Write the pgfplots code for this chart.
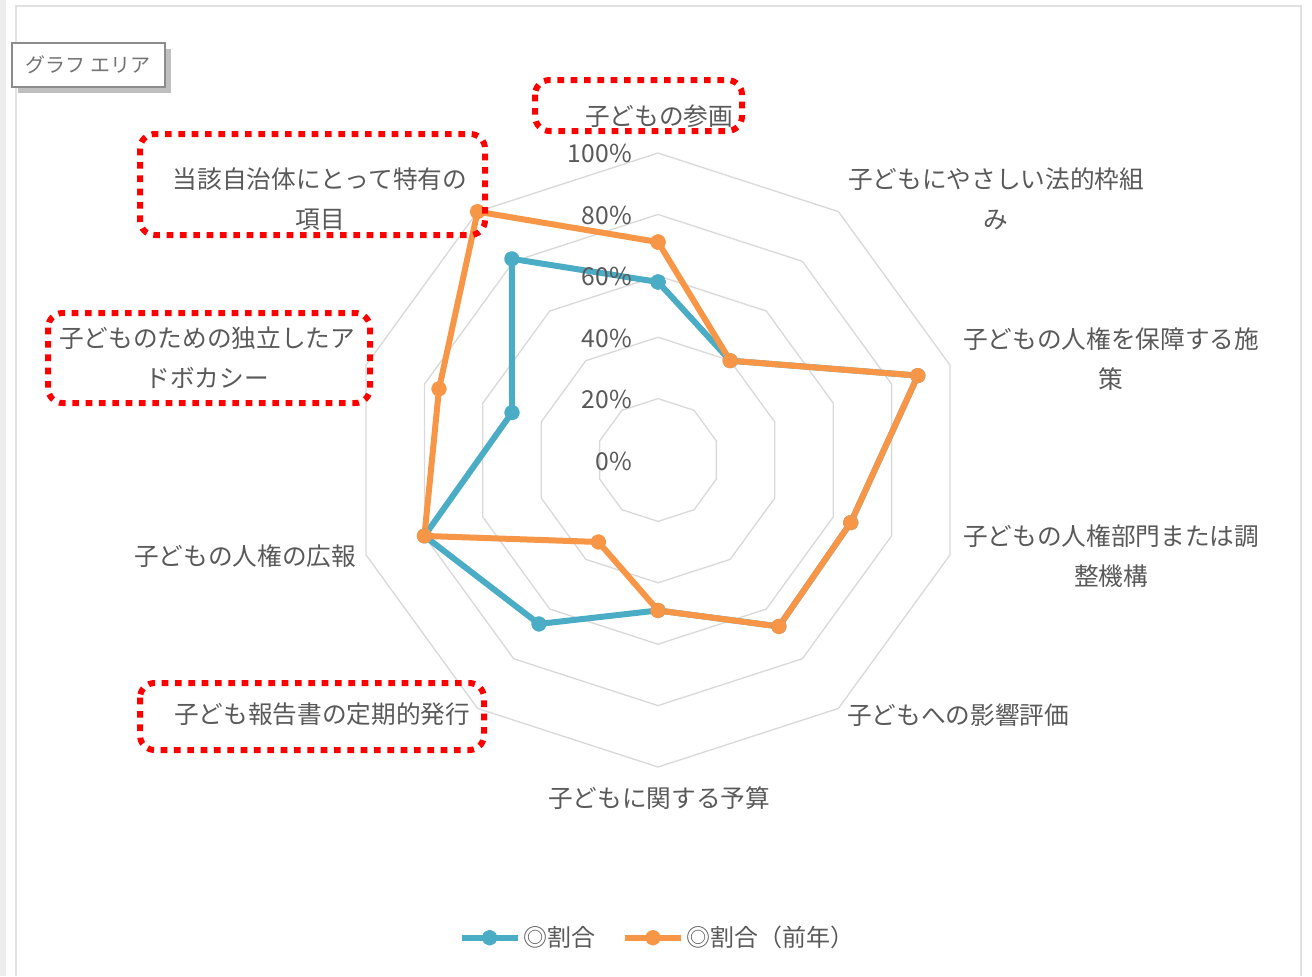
\documentclass[border=0pt]{standalone}
\usepackage{fontspec}
\setmainfont{Noto Sans CJK JP}
\usepackage{pgfplots}
\pgfplotsset{compat=1.18}
\usepgfplotslibrary{polar}

\definecolor{rateColor}{RGB}{75,172,198}
\definecolor{prevColor}{RGB}{247,150,70}
\definecolor{ringColor}{RGB}{217,217,217}
\definecolor{labelColor}{RGB}{89,89,89}
\definecolor{frameColor}{RGB}{225,225,225}

% angles: top first, then clockwise
\pgfplotstableread{
angle rate prev
90    58   71
54    40   40
18    89   89
-18   66   66
-54   67   67
-90   49   49
-126  66   33
-162  80   80
162   50   75
126   81   100
90    58   71
}\radardata

\begin{document}
\begin{tikzpicture}
\useasboundingbox (0,0) rectangle (984pt,-732pt);

\begin{scope}[x=0.75pt,y=-0.75pt]
  \fill[frameColor!60] (0,0) rectangle (6,976);
  \draw[frameColor, line width=1.5pt] (16,976) -- (16,6) -- (1301,6) -- (1301,976);
\end{scope}

\begin{polaraxis}[
    at={(493.5pt,-345pt)},
    anchor=origin,
    width=460.5pt,
    height=460.5pt,
    scale only axis,
    ymin=0, ymax=100,
    hide axis,
    grid=none,
    xtick=\empty,
    ytick=\empty,
    clip=false,
    legend columns=2,
    legend style={
        at={(axis description cs:0.5,-0.278)},
        anchor=center,
        draw=none,
        fill=none,
        font=\fontsize{18}{22}\selectfont,
        text=labelColor,
        /tikz/every even column/.append style={column sep=18pt},
    },
    legend image code/.code={
        \draw[mark repeat=2,mark phase=2,#1]
            plot coordinates {(0pt,0pt) (21pt,0pt) (42pt,0pt)};
    },
]
% decagonal rings
\foreach \r in {20,40,60,80,100} {
    \edef\ring{\noexpand\addplot[ringColor, line width=1pt, no marks, forget plot] coordinates {
        (90,\r) (54,\r) (18,\r) (-18,\r) (-54,\r) (-90,\r) (-126,\r) (-162,\r) (162,\r) (126,\r) (90,\r)};}
    \ring
}
\addplot[rateColor, line width=4.5pt, line join=round, mark=*, mark size=3.6pt,
    mark options={solid}] table[x=angle, y=rate] {\radardata};
\addlegendentry{◎割合}
\addplot[prevColor, line width=4.5pt, line join=round, mark=*, mark size=3.6pt,
    mark options={solid}] table[x=angle, y=prev] {\radardata};
\addlegendentry{◎割合（前年）}
\end{polaraxis}

\begin{scope}[x=0.75pt,y=-0.75pt,
    every node/.style={text=labelColor, font=\fontsize{18.5}{30}\selectfont, align=center, inner sep=0pt}]
  % radial tick labels
  \node[anchor=east] at (632,153) {100\%};
  \node[anchor=east] at (632,215) {80\%};
  \node[anchor=east] at (632,276) {60\%};
  \node[anchor=east] at (632,338) {40\%};
  \node[anchor=east] at (632,399) {20\%};
  \node[anchor=east] at (632,461) {0\%};
  % category labels
  \node at (659,116) {子どもの参画};
  \node at (996,199) {子どもにやさしい法的枠組\\み};
  \node at (1111,359) {子どもの人権を保障する施\\策};
  \node at (1111,556) {子どもの人権部門または調\\整機構};
  \node at (958,715) {子どもへの影響評価};
  \node at (659,798) {子どもに関する予算};
  \node at (322,714) {子ども報告書の定期的発行};
  \node at (245,556) {子どもの人権の広報};
  \node at (207,358) {子どものための独立したア\\ドボカシー};
  \node at (320,199) {当該自治体にとって特有の\\項目};
  % red dotted highlight boxes
  \begin{scope}[red, line width=4.5pt, dash pattern=on 5pt off 5pt, rounded corners=11pt]
    \draw (535,80) rectangle (742,131);
    \draw (140,134) rectangle (485,235);
    \draw (48,313) rectangle (370,403);
    \draw (140,683) rectangle (484,750);
  \end{scope}
  % chart-area tooltip
  \fill[black!25] (18,49) rectangle (171,93);
  \draw[black!45, line width=1pt, fill=white] (12,43) rectangle (165,87);
  \node[text=black!55, font=\fontsize{15}{18}\selectfont] at (88,65) {グラフ エリア};
\end{scope}
\end{tikzpicture}
\end{document}
